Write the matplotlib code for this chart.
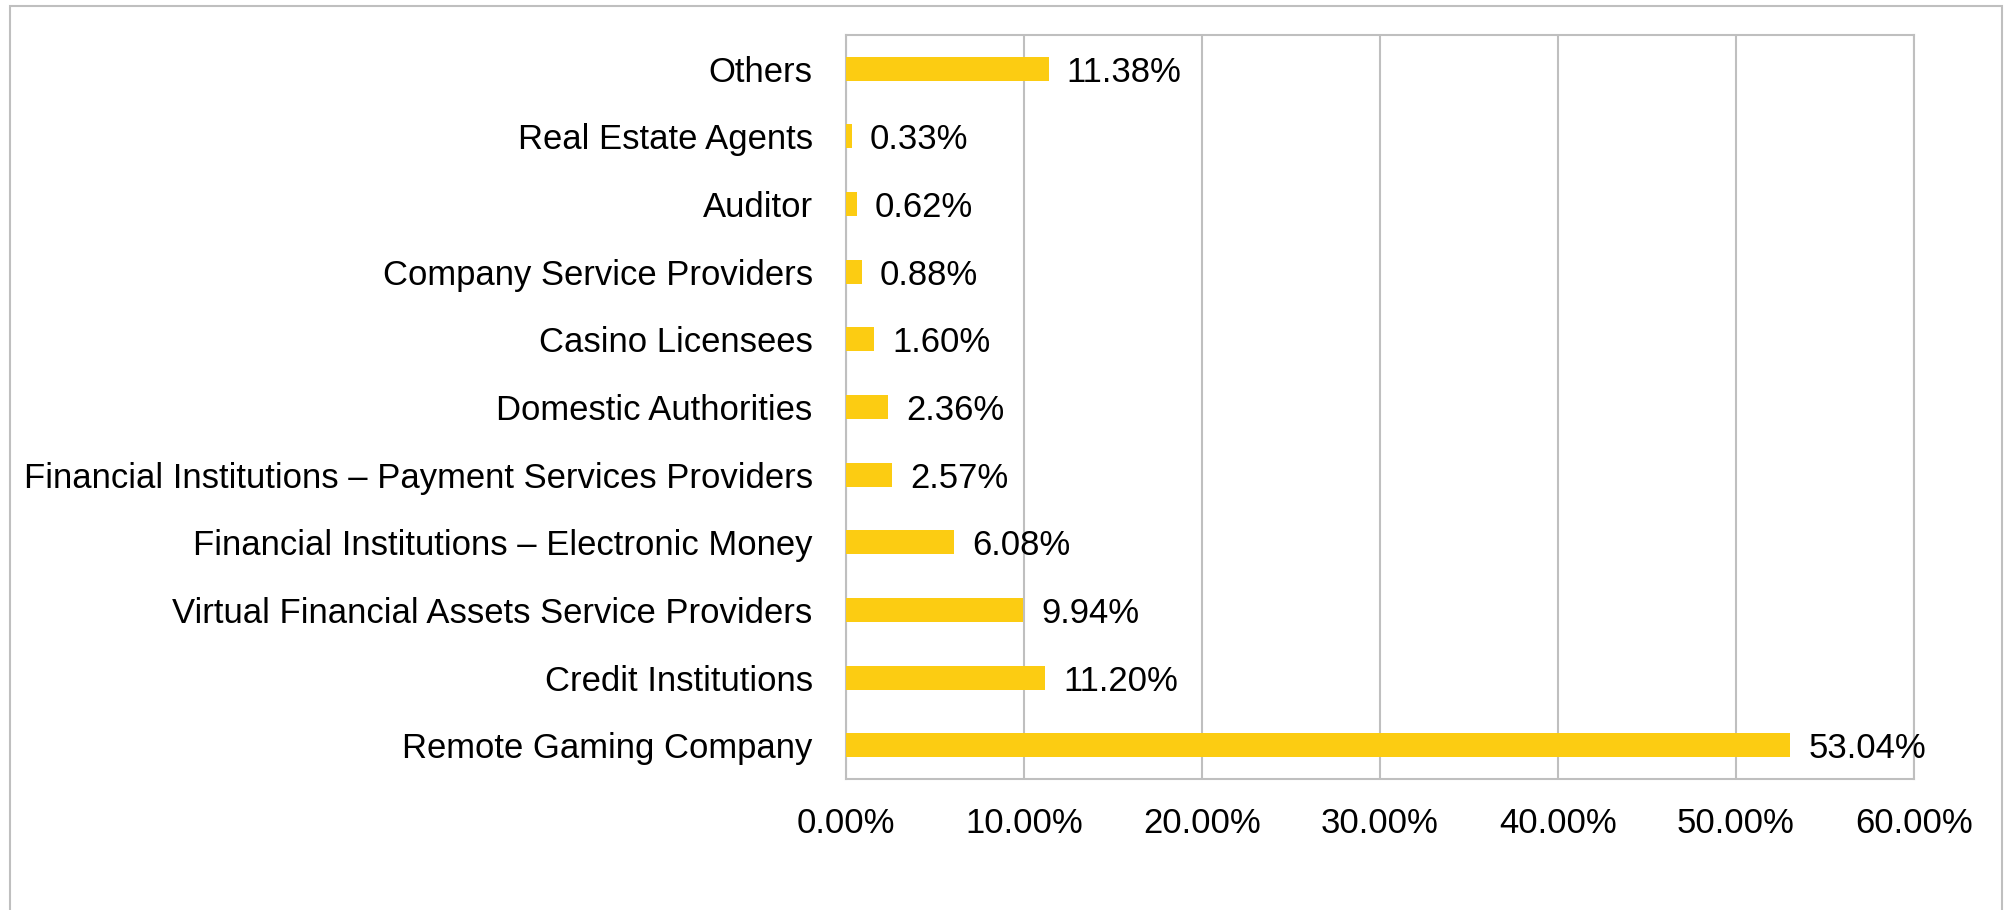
import matplotlib.pyplot as plt
import numpy as np
from matplotlib.patches import Rectangle

plt.rcParams['font.family'] = ['Liberation Sans', 'DejaVu Sans']

categories = ["Remote Gaming Company", "Credit Institutions",
              "Virtual Financial Assets Service Providers",
              "Financial Institutions \u2013 Electronic Money",
              "Financial Institutions \u2013 Payment Services Providers",
              "Domestic Authorities", "Casino Licensees",
              "Company Service Providers", "Auditor",
              "Real Estate Agents", "Others"]
shares = [53.04, 11.20, 9.94, 6.08, 2.57, 2.36, 1.60, 0.88, 0.62, 0.33, 11.38]
xticks = [0, 10, 20, 30, 40, 50, 60]

gold = '#FCCC12'
grey = '#BFBFBF'
fs = 24.9

fig = plt.figure(figsize=(20.09, 9.10), dpi=100)
ax = fig.add_axes([846 / 2009, 1 - 779 / 910, 1068 / 2009, 744 / 910])

y = np.arange(len(categories))
ax.barh(y, shares, height=0.355, color=gold, zorder=3)

for yi, v in zip(y, shares):
    ax.annotate(f"{v:.2f}%", (v, yi), xytext=(13, 0), textcoords='offset points',
                va='center_baseline', ha='left', fontsize=fs, zorder=4)

ax.set_xlim(0, 60)
ax.set_ylim(-0.5, len(categories) - 0.5)
ax.set_xticks(xticks)
ax.set_xticklabels([f"{t:.2f}%" for t in xticks])
ax.set_yticks(y)
ax.set_yticklabels(categories)
ax.tick_params(axis='both', length=0, labelsize=fs)
ax.tick_params(axis='x', pad=20)
ax.tick_params(axis='y', pad=24)

ax.grid(axis='x', color=grey, linewidth=1.5, zorder=0)
for s in ax.spines.values():
    s.set_color(grey)
    s.set_linewidth(1.5)

fig.patches.append(Rectangle((9.5 / 2009, -0.05), (2002 - 9.5) / 2009, 1.05 - 6 / 910,
                             transform=fig.transFigure, fill=False,
                             edgecolor=grey, linewidth=1.5))

plt.savefig("out.png", dpi=100)
